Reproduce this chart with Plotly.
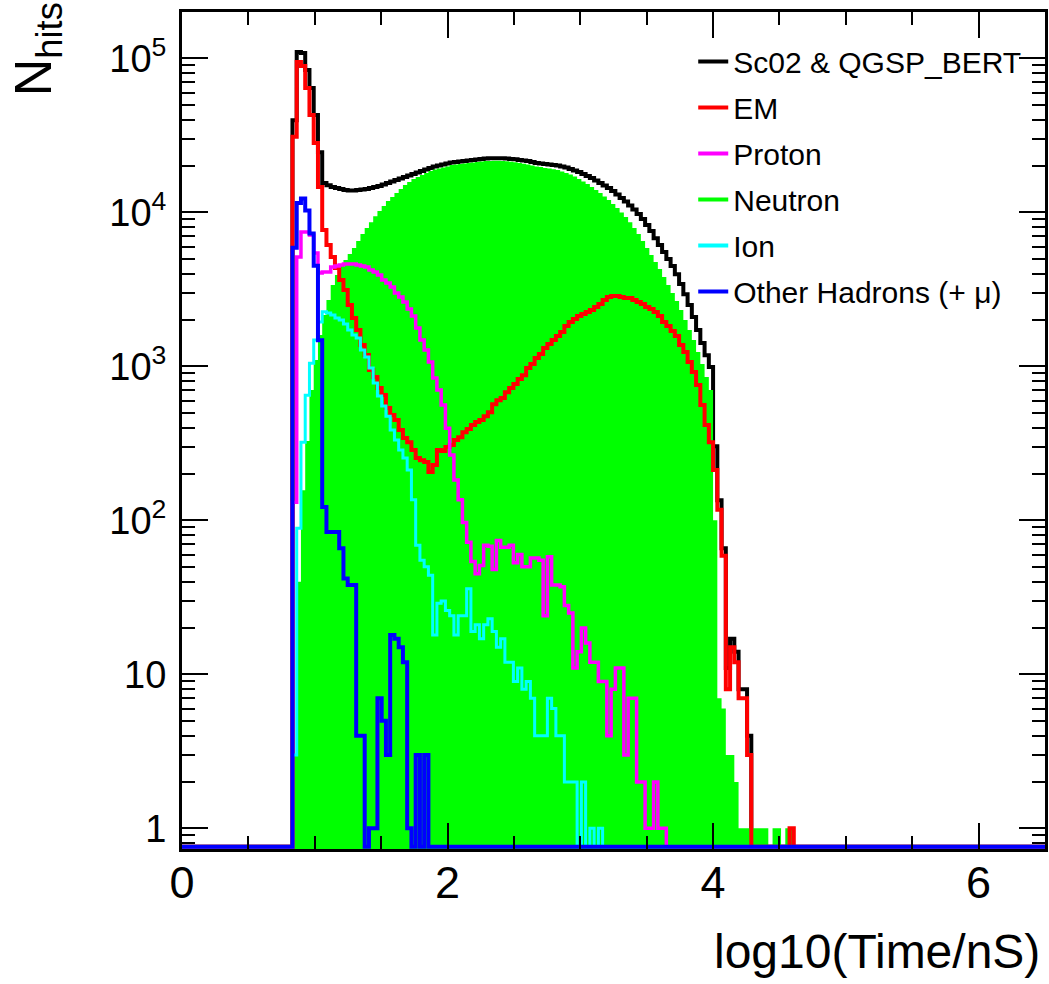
import numpy as np
import plotly.graph_objects as go

# Binning of log10(time) histograms: 0.032 wide bins starting at 0
BIN_WIDTH = 0.032
FIRST_BIN = 26            # index of the first bin listed in the count arrays
X_RANGE = (0.0, 6.5)
Y_LOG_RANGE = (-0.134, 5.301)

# Hit counts per bin, starting at bin FIRST_BIN
total_counts = [
    39700, 109900, 108200, 83900, 64100, 42800, 24600, 15500,
    15000, 14600, 14400, 14200, 13950, 13850, 13850, 13950, 14060, 14200, 14400, 14600,
    14820, 15170, 15500, 15850, 16200, 16570, 16950, 17330, 17730, 18130, 18540, 18960,
    19390, 19830, 20130, 20430, 20740, 21050, 21210, 21370, 21540, 21700, 21860, 22030,
    22200, 22360, 22430, 22460, 22460, 22430, 22360, 22200, 22100, 21860, 21700, 21540,
    21210, 20900, 20740, 20580, 20430, 20270, 20130, 19830, 19530, 19100, 18680, 18270,
    17730, 17220, 16710, 16080, 15500, 14920, 14380, 13750, 13050, 12390, 11750, 11070,
    10420, 9740, 9040, 8270, 7560, 6800, 6130, 5520, 4970, 4480, 3970, 3420,
    2940, 2500, 2090, 1720, 1420, 1180, 990,
    303, 135, 66, 11, 17, 14, 8, 8, 4,
]
em_counts = [
    30970, 94600, 89100, 64100, 42800, 28200, 14620, 7680,
    6140, 5130, 4350, 3640, 3130, 2500, 2060, 1720, 1375, 1183, 946, 853,
    723, 651, 536, 483, 448, 386, 342, 322, 286, 254, 246, 239,
    206, 229, 286, 282, 299, 308, 332, 347, 374, 392, 416, 435,
    448, 475, 504, 568, 603, 622, 680, 723, 767, 827, 877, 974,
    1035, 1132, 1202, 1315, 1396, 1482, 1573, 1670, 1827, 1940, 2029, 2123,
    2186, 2254, 2321, 2428, 2540, 2698, 2820, 2860, 2860, 2820, 2778, 2778,
    2698, 2617, 2540, 2428, 2355, 2254, 2123, 1940, 1827, 1698, 1573, 1375,
    1238, 1066, 918, 757, 561, 416, 322,
    212, 117, 59, 8, 15, 12, 7, 7, 3,
    0, 0, 0, 0, 0, 0, 0, 0, 0, 1,
]
proton_counts = [
    131, 5130, 7450, 7450, 7130, 5440, 4040, 4100,
    4100, 4410, 4480, 4550, 4620, 4620, 4620, 4550, 4480, 4410, 4220, 4100,
    3920, 3640, 3480, 3280, 2995, 2820, 2620, 2357, 2124, 1775, 1483, 1277,
    1067, 839, 702, 561, 397, 266, 183, 136, 97, 72, 54, 45,
    51, 69, 68, 48, 74, 67, 67, 69, 53, 60, 50, 50,
    57, 57, 55, 24, 58, 38, 38, 37, 28, 25, 11, 14,
    20, 16, 12, 12, 9, 9, 4, 8, 11, 11, 3, 7,
    7, 2, 2, 1, 1, 2, 1, 1,
]
neutron_counts = [
    3, 40, 157, 327, 702, 1099, 1597, 2153,
    2693, 3378, 3925, 4487, 4902, 5360, 5861, 6506, 7223, 7900, 8640, 9450,
    10190, 10990, 11840, 12570, 13340, 14160, 15030, 15720, 16440, 16950, 17470, 18000,
    18560, 18960, 19250, 19540, 19830, 20270, 20430, 20580, 20740, 20900, 21050, 21210,
    21370, 21540, 21540, 21600, 21600, 21540, 21480, 21290, 21130, 20900, 20680, 20480,
    20180, 19860, 19670, 19430, 19250, 19040, 18820, 18410, 18000, 17590, 17070, 16440,
    15850, 15270, 14600, 13950, 13340, 12670, 12020, 11330, 10670, 9970, 9320, 8640,
    7900, 7223, 6506, 5861, 5280, 4758, 4284, 3802, 3375, 2993, 2656, 2321,
    2000, 1722, 1483, 1238, 1035, 853, 703,
    100, 7, 6, 3, 3, 2, 1, 1, 1,
    1, 1, 1, 1, 0, 1, 1, 0, 1, 1,
]
ion_counts = [
    3, 89, 322, 650, 1049, 1483, 1940, 2264,
    2220, 2153, 2060, 2000, 1885, 1722, 1597, 1527, 1277, 1150, 975, 780,
    641, 552, 475, 386, 332, 286, 254, 212, 136, 69, 55, 50,
    44, 18, 29, 30, 26, 24, 18, 24, 24, 36, 19, 21,
    17, 21, 23, 19, 15, 17, 12, 12, 9, 11, 8, 9,
    7, 4, 4, 4, 7, 6, 4, 4, 2, 2, 2, 0,
    2, 0, 1, 0, 1, 0,
]
other_counts = [
    5900, 11500, 12300, 10300, 7300, 4500, 1480, 122,
    84, 84, 84, 66, 42, 38, 38, 4, 4, 0, 1, 1,
    7, 5, 3, 18, 17, 15, 12, 1, 0, 3, 0, 3,
]

y_tick_vals = [1, 10, 100, 1000, 10000, 100000]
y_tick_text = ["1", "10", "10<sup>2</sup>", "10<sup>3</sup>", "10<sup>4</sup>", "10<sup>5</sup>"]
x_tick_vals = [0, 2, 4, 6]

# name, counts, colour, outline width
series = [
    ("Sc02 & QGSP_BERT", total_counts, "#000000", 4),
    ("EM", em_counts, "#FF0000", 4),
    ("Proton", proton_counts, "#FF00FF", 3.5),
    ("Neutron", neutron_counts, "#00FF00", 0),
    ("Ion", ion_counts, "#00FFFF", 3),
    ("Other Hadrons (+ \u03bc)", other_counts, "#0000FF", 4),
]

n_bins = int(np.ceil(X_RANGE[1] / BIN_WIDTH))
edges = np.arange(n_bins + 1) * BIN_WIDTH
line_floor = 10 ** (Y_LOG_RANGE[0] + 0.014)   # empty bins drawn along the bottom
fill_floor = 1e-3


def step_xy(counts, empty_value):
    full = np.zeros(n_bins)
    full[FIRST_BIN:FIRST_BIN + len(counts)] = counts
    y = np.where(full > 0, full, empty_value)
    x = np.append(edges[:-1], edges[-1])
    y = np.append(y, y[-1])
    return x, y


fig = go.Figure()
font_main = "Liberation Sans, Arial, Helvetica, sans-serif"

# total first, neutron fill over it, then the remaining outlines
name, counts, color, width = series[0]
xs, ys = step_xy(counts, line_floor)
fig.add_trace(go.Scatter(x=xs, y=ys, mode="lines", line=dict(color=color, width=width, shape="hv"),
                         showlegend=False, hoverinfo="skip"))

xs, ys = step_xy([], fill_floor)
fig.add_trace(go.Scatter(x=xs, y=ys, mode="lines", line=dict(width=0, shape="hv"),
                         showlegend=False, hoverinfo="skip"))
xs, ys = step_xy(neutron_counts, fill_floor)
fig.add_trace(go.Scatter(x=xs, y=ys, mode="lines", line=dict(color="#00FF00", width=0, shape="hv"),
                         fill="tonexty", fillcolor="#00FF00", showlegend=False, hoverinfo="skip"))

for name, counts, color, width in series[1:]:
    if name == "Neutron":
        continue
    xs, ys = step_xy(counts, line_floor)
    fig.add_trace(go.Scatter(x=xs, y=ys, mode="lines", line=dict(color=color, width=width, shape="hv"),
                             showlegend=False, hoverinfo="skip"))

# legend entries
for name, counts, color, width in series:
    fig.add_trace(go.Scatter(x=[None], y=[None], mode="lines", name=name, legendgroup=name,
                             line=dict(color=color, width=4), showlegend=True))

y_minor = [0.8, 0.9] + [k * 10 ** d for d in range(0, 5) for k in range(2, 10)] + [2e5]

fig.update_layout(
    width=1049, height=984, autosize=False,
    margin=dict(l=182, r=1, t=12, b=135),
    paper_bgcolor="white", plot_bgcolor="white",
    font=dict(family=font_main, color="black"),
    showlegend=True,
    legend=dict(x=(695 - 182) / 866, y=0.972, xanchor="left", yanchor="top",
                font=dict(size=30, family=font_main), bgcolor="rgba(0,0,0,0)",
                borderwidth=0, tracegroupgap=4, itemwidth=30, traceorder="grouped"),
    xaxis=dict(range=list(X_RANGE), tickmode="array", tickvals=x_tick_vals,
               ticks="inside", ticklen=26, tickwidth=2, tickcolor="black",
               minor=dict(dtick=0.5, ticks="inside", ticklen=13, tickwidth=2, tickcolor="black"),
               showline=True, linewidth=3, linecolor="black", mirror="allticks",
               showgrid=False, zeroline=False,
               tickfont=dict(size=45, family=font_main), ticklabelstandoff=-8),
    yaxis=dict(type="log", range=list(Y_LOG_RANGE), tickmode="array",
               tickvals=y_tick_vals, ticktext=y_tick_text,
               ticks="inside", ticklen=26, tickwidth=2, tickcolor="black",
               minor=dict(tickmode="array", tickvals=y_minor, ticks="inside", ticklen=13,
                          tickwidth=2, tickcolor="black"),
               showline=True, linewidth=3, linecolor="black", mirror="allticks",
               showgrid=False, zeroline=False,
               tickfont=dict(size=38, family=font_main), ticklabelstandoff=5),
    annotations=[
        dict(text="log10(Time/nS)", xref="paper", yref="paper", x=0.9965, y=-0.123,
             xanchor="right", yanchor="middle", showarrow=False,
             font=dict(size=48, family=font_main)),
        dict(text="N<sub>hits</sub>", xref="paper", yref="paper", x=-0.168, y=1.014,
             xanchor="center", yanchor="top", textangle=-90, showarrow=False,
             font=dict(size=52, family=font_main)),
    ],
)

fig.write_html("out.html")
